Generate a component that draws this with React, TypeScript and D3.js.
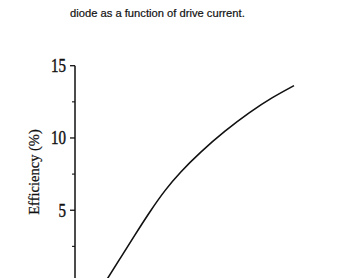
import React from "react";
import * as d3 from "d3";

const titleText = "diode as a function of drive current.";
const yLabel = "Efficiency (%)";
const majorTicks = [5, 10, 15];
const minorTicks = [2.5, 7.5, 12.5];
const current = [30, 45, 60, 75, 90, 105, 125, 150, 175, 197, 219];
const efficiency = [0.0, 1.65, 3.3, 4.92, 6.4, 7.62, 9.0, 10.5, 11.8, 12.8, 13.62];

export default function App() {
  const W = 363;
  const H = 278;
  const axisX = 75;
  const x = d3.scaleLinear().domain([0, 250]).range([axisX, axisX + 250]);
  const y = d3.scaleLinear().domain([0, 15]).range([282.5, 65.7]);
  const pts = current.map((c, i) => [c, efficiency[i]] as [number, number]);
  const line = d3
    .line<[number, number]>()
    .x((d) => x(d[0]))
    .y((d) => y(d[1]))
    .curve(d3.curveBasis);
  return (
    <svg
      width={W}
      height={H}
      style={{ position: "absolute", left: 0, top: 0, background: "#fff" }}
    >
      <text
        x={70}
        y={17}
        fontFamily="Liberation Sans, Arial, sans-serif"
        fontSize={11.2}
        fill="#111"
        stroke="#111"
        strokeWidth={0.2}
      >
        {titleText}
      </text>
      <line x1={axisX} x2={axisX} y1={y(15)} y2={H + 5} stroke="#111" strokeWidth={1.5} />
      {majorTicks.map((t) => (
        <g key={t}>
          <line x1={axisX - 5} x2={axisX} y1={y(t)} y2={y(t)} stroke="#111" strokeWidth={1.3} />
          <text
            transform={`translate(${axisX - 9},${y(t) + 6.5}) scale(1,1.2)`}
            textAnchor="end"
            fontFamily="Liberation Serif, Times New Roman, serif"
            fontSize={15}
            fill="#111"
            stroke="#111"
            strokeWidth={0.35}
          >
            {t}
          </text>
        </g>
      ))}
      {minorTicks.map((t) => (
        <line key={t} x1={axisX - 3} x2={axisX} y1={y(t)} y2={y(t)} stroke="#111" strokeWidth={1.1} />
      ))}
      <text
        transform={`translate(39,172) rotate(-90)`}
        textAnchor="middle"
        fontFamily="Liberation Serif, Times New Roman, serif"
        fontSize={14.5}
        fill="#111"
        stroke="#111"
        strokeWidth={0.25}
      >
        {yLabel}
      </text>
      <path d={line(pts) || ""} fill="none" stroke="#111" strokeWidth={1.6} />
    </svg>
  );
}
